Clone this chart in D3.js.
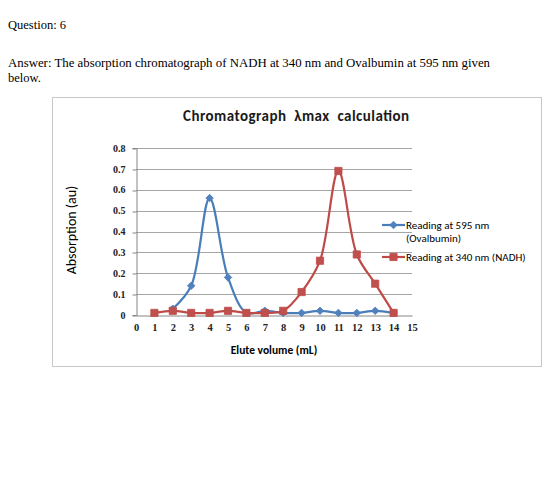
<!DOCTYPE html>
<html>
<head>
<meta charset="utf-8">
<script src="https://cdn.jsdelivr.net/npm/d3@7"></script>
<style>
  body { margin: 0; background: #fff; }
  svg { display: block; }
  text { white-space: pre; }
</style>
</head>
<body>
<svg width="560" height="498"></svg>
<script>
let svg = d3.select("svg"),
    width = +svg.attr("width"),
    height = +svg.attr("height");

// elute volume (mL)
let volumes = [1, 2, 3, 4, 5, 6, 7, 8, 9, 10, 11, 12, 13, 14];
let ovalbumin = [null, 0.03, 0.14, 0.56, 0.18, 0.01, 0.02, 0.01, 0.01, 0.02, 0.01, 0.01, 0.02, 0.01];
let nadh = [0.01, 0.02, 0.01, 0.01, 0.02, 0.01, 0.01, 0.02, 0.11, 0.26, 0.69, 0.29, 0.15, 0.01];
let xTicks = d3.range(0, 16);
let yTicks = [0, 0.1, 0.2, 0.3, 0.4, 0.5, 0.6, 0.7, 0.8];

let series = [
    {name: "Reading at 595 nm", sub: "(Ovalbumin)", values: ovalbumin, line: "#4a7ebb", fill: "#4f81bd", shape: "diamond"},
    {name: "Reading at 340 nm (NADH)", sub: null, values: nadh, line: "#be4b48", fill: "#c0504d", shape: "square"}
];

svg.append("rect").attr("width", width).attr("height", height).attr("fill", "#fff");

// page text above the chart
let serif = "'Liberation Serif', 'Times New Roman', serif";
svg.append("text").attr("x", 8).attr("y", 29)
    .attr("font-family", serif).attr("font-size", 12.5)
    .text("Question: 6");
svg.append("text").attr("x", 8).attr("y", 67)
    .attr("font-family", serif).attr("font-size", 12.5)
    .attr("textLength", 482).attr("lengthAdjust", "spacingAndGlyphs")
    .text("Answer: The absorption chromatograph of NADH at 340 nm and Ovalbumin at 595 nm given");
svg.append("text").attr("x", 8).attr("y", 82)
    .attr("font-family", serif).attr("font-size", 12.5)
    .text("below.");

// chart frame
svg.append("rect")
    .attr("x", 52.5).attr("y", 97.5).attr("width", 489).attr("height", 269)
    .attr("fill", "#fff").attr("stroke", "#c8c8c8");

let sans = "Carlito, Lato, 'Open Sans', sans-serif";
let plot = {left: 136, right: 412, top: 148, bottom: 315};

let x = d3.scaleLinear().domain([0, 15]).range([plot.left, plot.right]);
let y = d3.scaleLinear().domain([0, 0.8]).range([plot.bottom, plot.top]);

// gridlines
svg.append("g")
    .selectAll("line")
    .data(yTicks.slice(1)).enter().append("line")
        .attr("x1", plot.left).attr("x2", plot.right)
        .attr("y1", d => Math.round(y(d)) + 0.5).attr("y2", d => Math.round(y(d)) + 0.5)
        .attr("stroke", "#a6a6a6");

// y axis
let yAxis = svg.append("g")
    .attr("transform", `translate(${plot.left + 0.5},0)`)
    .call(d3.axisLeft(y).tickValues(yTicks).tickSize(4).tickPadding(7)
        .tickFormat(d => d === 0 ? "0" : d3.format(".1f")(d)));
yAxis.select(".domain").attr("stroke", "#868686");
yAxis.selectAll(".tick line").attr("stroke", "#868686")
    .attr("transform", d => `translate(0,${Math.round(y(d)) + 0.5 - y(d)})`);
yAxis.selectAll("text").attr("font-family", serif).attr("font-size", 10)
    .attr("font-weight", "bold").attr("fill", "#222");

// x axis
let xAxis = svg.append("g")
    .attr("transform", `translate(0,${plot.bottom + 0.5})`)
    .call(d3.axisBottom(x).tickValues(xTicks).tickSize(0).tickPadding(8).tickFormat(d3.format("d")));
xAxis.select(".domain").attr("stroke", "#868686");
xAxis.selectAll("text").attr("font-family", serif).attr("font-size", 10.5)
    .attr("font-weight", "bold").attr("fill", "#222");

// lines
let line = d3.line()
    .defined(d => d[1] !== null)
    .x(d => x(d[0]))
    .y(d => y(d[1]))
    .curve(d3.curveCatmullRom.alpha(0.5));

let diamond = d3.symbol().type(d3.symbolDiamond2).size(36);
let square = d3.symbol().type(d3.symbolSquare).size(52);

series.forEach(s => {
    let pts = volumes.map((v, i) => [v, s.values[i]]).filter(p => p[1] !== null);
    svg.append("path")
        .datum(pts)
        .attr("d", line)
        .attr("fill", "none")
        .attr("stroke", s.line)
        .attr("stroke-width", 2.2);
    svg.append("g")
        .selectAll("path")
        .data(pts).enter().append("path")
            .attr("d", s.shape === "diamond" ? diamond : square)
            .attr("transform", d => `translate(${x(d[0])},${y(d[1])})`)
            .attr("fill", s.fill)
            .attr("stroke", s.line)
            .attr("stroke-width", 0.8);
});

// titles
svg.append("text")
    .attr("x", 183).attr("y", 121)
    .attr("font-family", sans).attr("font-size", 15).attr("font-weight", "bold")
    .attr("fill", "#1a1a1a")
    .attr("textLength", 226).attr("lengthAdjust", "spacing")
    .text("Chromatograph  λmax  calculation");

svg.append("text")
    .attr("transform", "translate(76,230) rotate(-90)")
    .attr("text-anchor", "middle")
    .attr("font-family", sans).attr("font-size", 14)
    .text("Absorption (au)");

svg.append("text")
    .attr("x", 274).attr("y", 354)
    .attr("text-anchor", "middle")
    .attr("font-family", sans).attr("font-size", 11.5).attr("font-weight", "bold")
    .text("Elute volume (mL)");

// legend
let legend = svg.append("g").attr("transform", "translate(382,0)");
series.forEach((s, i) => {
    let ly = i === 0 ? 225 : 257;
    let g = legend.append("g").attr("transform", `translate(0,${ly})`);
    g.append("line").attr("x1", 0).attr("x2", 23).attr("stroke", s.line).attr("stroke-width", 2.2);
    g.append("path")
        .attr("d", s.shape === "diamond" ? diamond : square)
        .attr("transform", "translate(11.5,0)")
        .attr("fill", s.fill).attr("stroke", s.line).attr("stroke-width", 0.8);
    g.append("text").attr("x", 24).attr("y", 4)
        .attr("font-family", sans).attr("font-size", 11)
        .text(s.name);
    if (s.sub) {
        g.append("text").attr("x", 24).attr("y", 17)
            .attr("font-family", sans).attr("font-size", 11)
            .text(s.sub);
    }
});
</script>
</body>
</html>
